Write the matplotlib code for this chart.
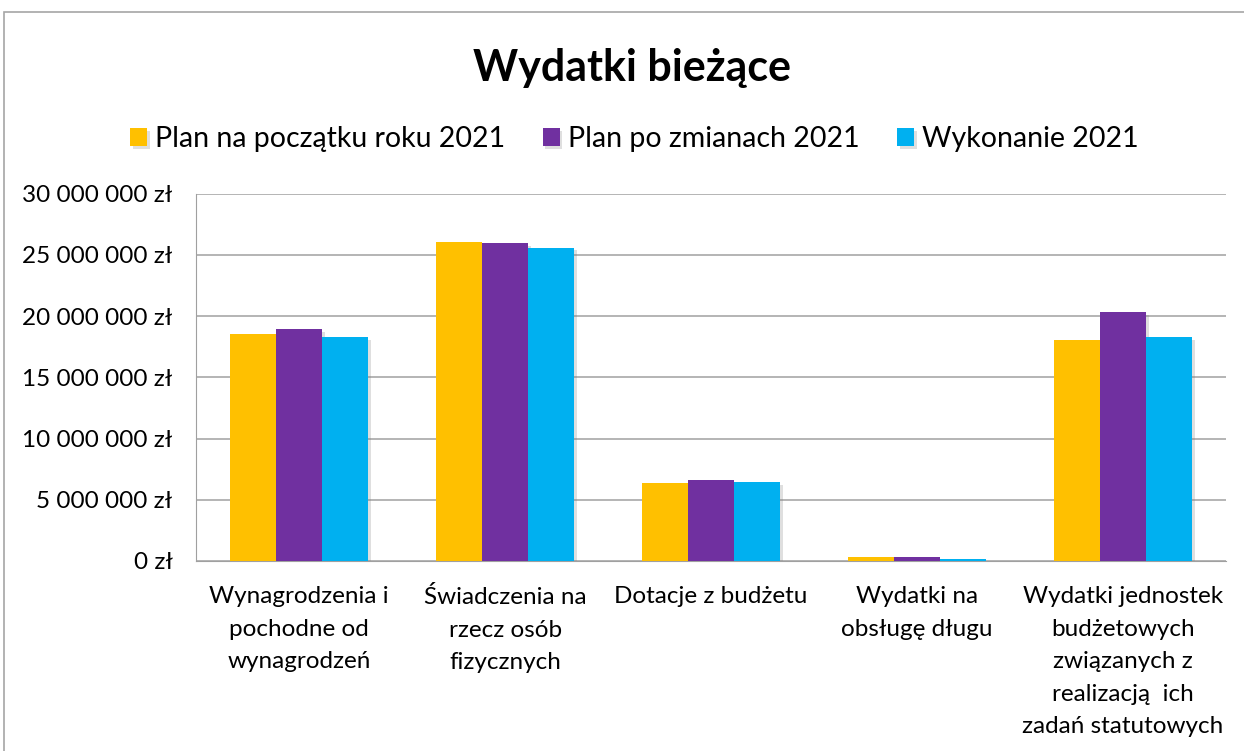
import numpy as np
import matplotlib
matplotlib.use("Agg")
import matplotlib.pyplot as plt
import matplotlib.patheffects as pe
from matplotlib.ticker import FuncFormatter
from matplotlib.patches import Rectangle

plt.rcParams['font.family'] = ['Lato', 'DejaVu Sans']

categories = ["Wynagrodzenia i\npochodne od\nwynagrodzeń",
              "Świadczenia na\nrzecz osób\nfizycznych",
              "Dotacje z budżetu",
              "Wydatki na\nobsługę długu",
              "Wydatki jednostek\nbudżetowych\nzwiązanych z\nrealizacją  ich\nzadań statutowych"]
series_names = ["Plan na początku roku 2021", "Plan po zmianach 2021", "Wykonanie 2021"]
plan_start = [18560000, 26080000, 6380000, 330000, 18070000]
plan_changed = [18970000, 26000000, 6600000, 330000, 20300000]
execution = [18300000, 25600000, 6460000, 200000, 18300000]
colors = ["#FFC000", "#7030A0", "#00B0F0"]

fig = plt.figure(figsize=(12.44, 7.51), dpi=100)
ax = fig.add_axes([0.1576, 0.253, 0.828, 0.489])

# ramka wykresu
fig.patches.append(Rectangle((4 / 1244, -0.1), 1.2, 1 - 12 / 751 + 0.1,
                             transform=fig.transFigure, fill=False,
                             edgecolor="#A6A6A6", linewidth=1.2))

x = np.arange(len(categories))
w = 0.223
shadow = [pe.SimplePatchShadow(offset=(2, -2), alpha=0.25, shadow_rgbFace="gray"), pe.Normal()]
for i, (vals, name) in enumerate(zip([plan_start, plan_changed, execution], series_names)):
    bars = ax.bar(x + (i - 1) * w, vals, w, color=colors[i], label=name, zorder=3)
    for b in bars:
        b.set_path_effects(shadow)

ax.set_xlim(-0.5, len(categories) - 0.5)
ax.set_ylim(0, 30000000)
ax.set_yticks(np.arange(0, 30000001, 5000000))
ax.yaxis.set_major_formatter(FuncFormatter(lambda v, p: f"{int(v):,} zł".replace(",", " ")))
ax.grid(axis="y", color="#A0A0A0", linewidth=1.1, zorder=0)
ax.set_axisbelow(True)
for s in ["top", "right"]:
    ax.spines[s].set_visible(False)
ax.spines["left"].set_color("#A0A0A0")
ax.spines["bottom"].set_color("#A0A0A0")
ax.tick_params(axis="y", length=0, labelsize=17.5, pad=17)
ax.tick_params(axis="x", length=0, labelsize=17.5, pad=18)
ax.set_xticks(x)
ax.set_xticklabels(categories, linespacing=1.68)

fig.text(0.508, 0.91, "Wydatki bieżące", ha="center", va="center",
         fontsize=31, fontweight="bold")
fig.legend(loc="center", bbox_to_anchor=(0.51, 0.815), ncol=3, frameon=False,
           fontsize=20.5, handlelength=0.6, handleheight=0.6, handletextpad=0.3,
           columnspacing=1.3)

fig.savefig("out.png", dpi=100)
